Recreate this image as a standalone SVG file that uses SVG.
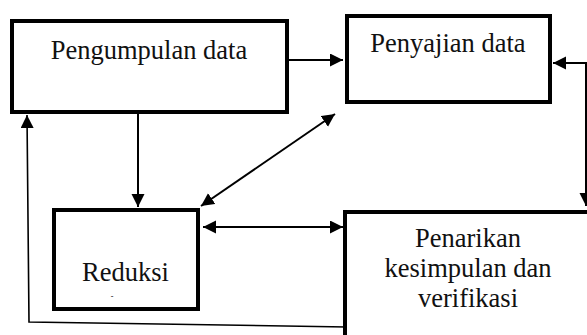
<svg xmlns="http://www.w3.org/2000/svg" width="587" height="335" viewBox="0 0 587 335">
<style>
.box{fill:#fff;stroke:#000;stroke-width:4}
.t{font-family:'Liberation Serif','DejaVu Serif',serif;font-size:26.5px;fill:#111;text-anchor:middle}
.c{fill:none;stroke:#000;stroke-width:2}
.f{fill:none;stroke:#000;stroke-width:1.6}
</style>
<defs>
<marker id="ah" markerUnits="userSpaceOnUse" markerWidth="14" markerHeight="14" refX="13" refY="6.5" orient="auto-start-reverse">
<path d="M0,0 L13,6.5 L0,13 z" fill="#000"/>
</marker>
</defs>
<rect width="587" height="335" fill="#fff"/>
<g id="n-pengumpulan">
<rect class="box" x="12" y="21" width="275" height="91"/>
<text class="t" x="149" y="59" font-family="Liberation Serif, DejaVu Serif, serif">Pengumpulan data</text>
</g>
<g id="n-penyajian">
<rect class="box" x="347" y="16" width="203" height="86"/>
<text class="t" x="448" y="52" font-family="Liberation Serif, DejaVu Serif, serif">Penyajian data</text>
</g>
<g id="n-reduksi">
<rect class="box" x="54" y="210" width="144" height="99"/>
<text class="t" x="125.5" y="281" font-family="Liberation Serif, DejaVu Serif, serif">Reduksi</text>
<text x="112" y="299" font-family="Liberation Serif, DejaVu Serif, serif" font-size="8" text-anchor="middle">-</text>
</g>
<g id="n-penarikan">
<rect class="box" x="345" y="212" width="270" height="140"/>
<text class="t" x="468" y="247" font-family="Liberation Serif, DejaVu Serif, serif">Penarikan</text>
<text class="t" x="468" y="277" font-family="Liberation Serif, DejaVu Serif, serif">kesimpulan dan</text>
<text class="t" x="468" y="307" font-family="Liberation Serif, DejaVu Serif, serif">verifikasi</text>
</g>
<g id="connectors">
<line class="c" x1="289" y1="60" x2="343" y2="60" marker-end="url(#ah)"/>
<line class="c" x1="138" y1="114" x2="138" y2="207" marker-end="url(#ah)"/>
<line class="c" x1="201" y1="206" x2="335" y2="114" marker-start="url(#ah)" marker-end="url(#ah)"/>
<line class="c" x1="203" y1="227" x2="343" y2="227" marker-start="url(#ah)" marker-end="url(#ah)"/>
<path class="c" d="M553,63 L586,63 L586,206" marker-start="url(#ah)" marker-end="url(#ah)"/>
<path class="f" d="M347,327 L29,322 L27,115" marker-end="url(#ah)"/>
</g>
</svg>
